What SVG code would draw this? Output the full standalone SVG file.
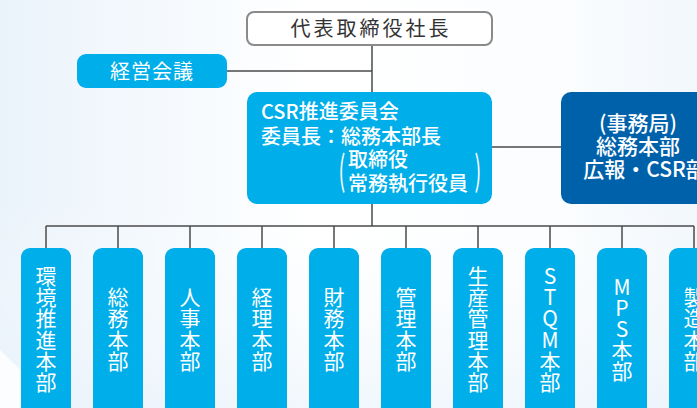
<svg xmlns="http://www.w3.org/2000/svg" width="697" height="408" viewBox="0 0 697 408">
  <defs>
    <linearGradient id="bg" x1="0" y1="0" x2="1" y2="0">
      <stop offset="0" stop-color="#eaf3fb"/>
      <stop offset="0.45" stop-color="#ffffff"/>
      <stop offset="0.8" stop-color="#fbfdfe"/>
      <stop offset="1" stop-color="#f2f7fc"/>
    </linearGradient>
    <linearGradient id="bg2" x1="0" y1="0" x2="0" y2="1">
      <stop offset="0" stop-color="#ffffff" stop-opacity="0"/>
      <stop offset="1" stop-color="#e8f2fb" stop-opacity="0.6"/>
    </linearGradient>
  </defs>
  <style>
    .t { font-family: "Noto Sans CJK JP", "Noto Sans", sans-serif; }
    .w { fill: #ffffff; }
    .line { stroke: #4a4a4a; stroke-width: 1.5; fill: none; }
    .cyan { fill: #00aee9; }
    .navy { fill: #0061ab; }
    .vt { font-size: 21px; text-anchor: middle; }
    .m { font-weight: 500; }
  </style>
  <rect x="0" y="0" width="697" height="408" fill="url(#bg)"/>
  <rect x="0" y="200" width="697" height="208" fill="url(#bg2)"/>
  <polygon points="0,350 60,408 0,408" fill="#ffffff" opacity="0.8"/>

  <g id="connectors">
    <line class="line" x1="372" y1="45" x2="372" y2="92"/>
    <line class="line" x1="227" y1="71" x2="372" y2="71"/>
    <line class="line" x1="492" y1="147" x2="561" y2="147"/>
    <line class="line" x1="372" y1="204" x2="372" y2="226"/>
    <line class="line" x1="46" y1="226" x2="694" y2="226"/>
    <line class="line" x1="46" y1="226" x2="46" y2="248"/>
    <line class="line" x1="118" y1="226" x2="118" y2="248"/>
    <line class="line" x1="190" y1="226" x2="190" y2="248"/>
    <line class="line" x1="262" y1="226" x2="262" y2="248"/>
    <line class="line" x1="334" y1="226" x2="334" y2="248"/>
    <line class="line" x1="406" y1="226" x2="406" y2="248"/>
    <line class="line" x1="478" y1="226" x2="478" y2="248"/>
    <line class="line" x1="550" y1="226" x2="550" y2="248"/>
    <line class="line" x1="622" y1="226" x2="622" y2="248"/>
    <line class="line" x1="694" y1="226" x2="694" y2="248"/>
  </g>

  <g id="president">
    <rect x="247" y="12" width="245" height="33" rx="7" fill="#ffffff" stroke="#8a8a8a" stroke-width="2"/>
    <text class="t" x="371" y="36" font-size="20" fill="#333333" text-anchor="middle" letter-spacing="3">代表取締役社長</text>
  </g>

  <g id="management-meeting">
    <rect class="cyan" x="77" y="54" width="150" height="34" rx="9"/>
    <text class="t w" x="152" y="79" font-size="20" text-anchor="middle" letter-spacing="1">経営会議</text>
  </g>

  <g id="csr-committee">
    <rect class="cyan" x="247" y="92" width="245" height="112" rx="10"/>
    <text class="t w m" x="261" y="119" font-size="20">CSR推進委員会</text>
    <text class="t w m" x="261" y="144" font-size="20">委員長：総務本部長</text>
    <text class="t w" font-size="20" text-anchor="middle" transform="translate(342,185) scale(1,2)">(</text>
    <text class="t w m" x="348" y="167" font-size="20">取締役</text>
    <text class="t w m" x="348" y="191" font-size="20">常務執行役員</text>
    <text class="t w" font-size="20" text-anchor="middle" transform="translate(478,185) scale(1,2)">)</text>
  </g>

  <g id="secretariat">
    <rect class="navy" x="561" y="92" width="160" height="112" rx="10"/>
    <text class="t w m" x="638" y="131" font-size="21" text-anchor="middle">(事務局)</text>
    <text class="t w m" x="638" y="154" font-size="21" text-anchor="middle">総務本部</text>
    <text class="t w m" x="645" y="177" font-size="21" text-anchor="middle">広報・CSR部</text>
  </g>

  <g id="dept-env">
    <rect class="cyan" x="21" y="248" width="50" height="180" rx="9"/>
    <text class="t w vt"><tspan x="46" y="284">環</tspan><tspan x="46" y="305.2">境</tspan><tspan x="46" y="326.4">推</tspan><tspan x="46" y="347.6">進</tspan><tspan x="46" y="368.8">本</tspan><tspan x="46" y="390">部</tspan></text>
  </g>
  <g id="dept-general">
    <rect class="cyan" x="93" y="248" width="50" height="180" rx="9"/>
    <text class="t w vt"><tspan x="118" y="305.1">総</tspan><tspan x="118" y="326.3">務</tspan><tspan x="118" y="347.5">本</tspan><tspan x="118" y="368.7">部</tspan></text>
  </g>
  <g id="dept-hr">
    <rect class="cyan" x="165" y="248" width="50" height="180" rx="9"/>
    <text class="t w vt"><tspan x="190" y="305.1">人</tspan><tspan x="190" y="326.3">事</tspan><tspan x="190" y="347.5">本</tspan><tspan x="190" y="368.7">部</tspan></text>
  </g>
  <g id="dept-accounting">
    <rect class="cyan" x="237" y="248" width="50" height="180" rx="9"/>
    <text class="t w vt"><tspan x="262" y="305.1">経</tspan><tspan x="262" y="326.3">理</tspan><tspan x="262" y="347.5">本</tspan><tspan x="262" y="368.7">部</tspan></text>
  </g>
  <g id="dept-finance">
    <rect class="cyan" x="309" y="248" width="50" height="180" rx="9"/>
    <text class="t w vt"><tspan x="334" y="305.1">財</tspan><tspan x="334" y="326.3">務</tspan><tspan x="334" y="347.5">本</tspan><tspan x="334" y="368.7">部</tspan></text>
  </g>
  <g id="dept-admin">
    <rect class="cyan" x="381" y="248" width="50" height="180" rx="9"/>
    <text class="t w vt"><tspan x="406" y="305.1">管</tspan><tspan x="406" y="326.3">理</tspan><tspan x="406" y="347.5">本</tspan><tspan x="406" y="368.7">部</tspan></text>
  </g>
  <g id="dept-production">
    <rect class="cyan" x="453" y="248" width="50" height="180" rx="9"/>
    <text class="t w vt"><tspan x="478" y="284">生</tspan><tspan x="478" y="305.2">産</tspan><tspan x="478" y="326.4">管</tspan><tspan x="478" y="347.6">理</tspan><tspan x="478" y="368.8">本</tspan><tspan x="478" y="390">部</tspan></text>
  </g>
  <g id="dept-stqm">
    <rect class="cyan" x="525" y="248" width="50" height="180" rx="9"/>
    <text class="t w vt"><tspan x="550" y="284">S</tspan><tspan x="550" y="305.2">T</tspan><tspan x="550" y="326.4">Q</tspan><tspan x="550" y="347.6">M</tspan><tspan x="550" y="368.8">本</tspan><tspan x="550" y="390">部</tspan></text>
  </g>
  <g id="dept-mps">
    <rect class="cyan" x="597" y="248" width="50" height="180" rx="9"/>
    <text class="t w vt"><tspan x="622" y="294.5">M</tspan><tspan x="622" y="315.7">P</tspan><tspan x="622" y="336.9">S</tspan><tspan x="622" y="358.1">本</tspan><tspan x="622" y="379.3">部</tspan></text>
  </g>
  <g id="dept-manufacturing">
    <rect class="cyan" x="669" y="248" width="50" height="180" rx="9"/>
    <text class="t w vt"><tspan x="694" y="305.1">製</tspan><tspan x="694" y="326.3">造</tspan><tspan x="694" y="347.5">本</tspan><tspan x="694" y="368.7">部</tspan></text>
  </g>
</svg>
